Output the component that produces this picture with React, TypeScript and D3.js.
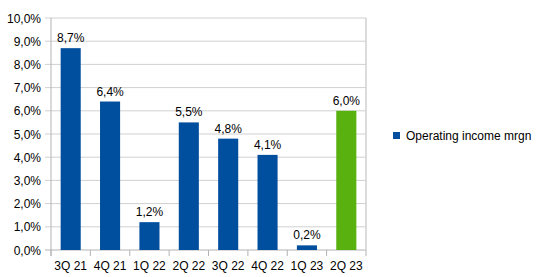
import React from 'react';
import * as d3 from 'd3';

const categories = ['3Q 21', '4Q 21', '1Q 22', '2Q 22', '3Q 22', '4Q 22', '1Q 23', '2Q 23'];
const margins = [8.7, 6.4, 1.2, 5.5, 4.8, 4.1, 0.2, 6.0];
const highlight = ['2Q 23'];
const yTicks = [0, 1, 2, 3, 4, 5, 6, 7, 8, 9, 10];
const seriesName = 'Operating income mrgn';

const BLUE = '#004f9f';
const GREEN = '#58b10e';
const FONT = '"Liberation Sans", Arial, sans-serif';

const fmt = (v: number) => v.toFixed(1).replace('.', ',') + '%';

const App: React.FC = () => {
  const width = 539;
  const height = 277;
  const plot = { left: 51, right: 366, top: 18, bottom: 250 };

  const x = d3.scaleBand<string>()
    .domain(categories)
    .range([plot.left, plot.right])
    .paddingInner(0.49)
    .paddingOuter(0.245);

  const y = d3.scaleLinear().domain([0, 10]).range([plot.bottom, plot.top]);

  // band boundaries for tick marks
  const step = (plot.right - plot.left) / categories.length;
  const bounds = d3.range(categories.length + 1).map(i => plot.left + i * step);

  return (
    <svg width={width} height={height} style={{ position: 'absolute', left: 0, top: 0 }}
      fontFamily={FONT}>
      <rect width={width} height={height} fill="#fff" />
      {yTicks.map(t => (
        <g key={t}>
          <line x1={plot.left - 6} x2={plot.right} y1={y(t)} y2={y(t)}
            stroke={t === 0 ? '#b3b3b3' : '#d0d0d0'} strokeWidth={1} />
          <text x={41} y={y(t) + 4.5} textAnchor="end" fontSize={12} fill="#000">{fmt(t)}</text>
        </g>
      ))}
      <line x1={plot.right} x2={plot.right} y1={plot.top} y2={plot.bottom}
        stroke="#d0d0d0" strokeWidth={1.5} />
      <line x1={plot.left} x2={plot.left} y1={plot.top} y2={plot.bottom + 6}
        stroke="#b3b3b3" strokeWidth={1} />
      {bounds.map((b, i) => (
        <line key={i} x1={b} x2={b} y1={plot.bottom} y2={plot.bottom + 6}
          stroke="#b3b3b3" strokeWidth={1} />
      ))}
      {categories.map((c, i) => {
        const v = margins[i];
        const bx = x(c) as number;
        return (
          <g key={c}>
            <rect x={bx} y={y(v)} width={x.bandwidth()} height={y(0) - y(v)}
              fill={highlight.includes(c) ? GREEN : BLUE} />
            <text x={bx + x.bandwidth() / 2} y={y(v) - 6} textAnchor="middle"
              fontSize={12} fill="#000">{fmt(v)}</text>
            <text x={bx + x.bandwidth() / 2} y={270} textAnchor="middle"
              fontSize={12} fill="#000">{c}</text>
          </g>
        );
      })}
      <rect x={393} y={132} width={7} height={7} fill={BLUE} />
      <text x={406} y={139.5} fontSize={12} fill="#000">{seriesName}</text>
    </svg>
  );
};

export default App;
